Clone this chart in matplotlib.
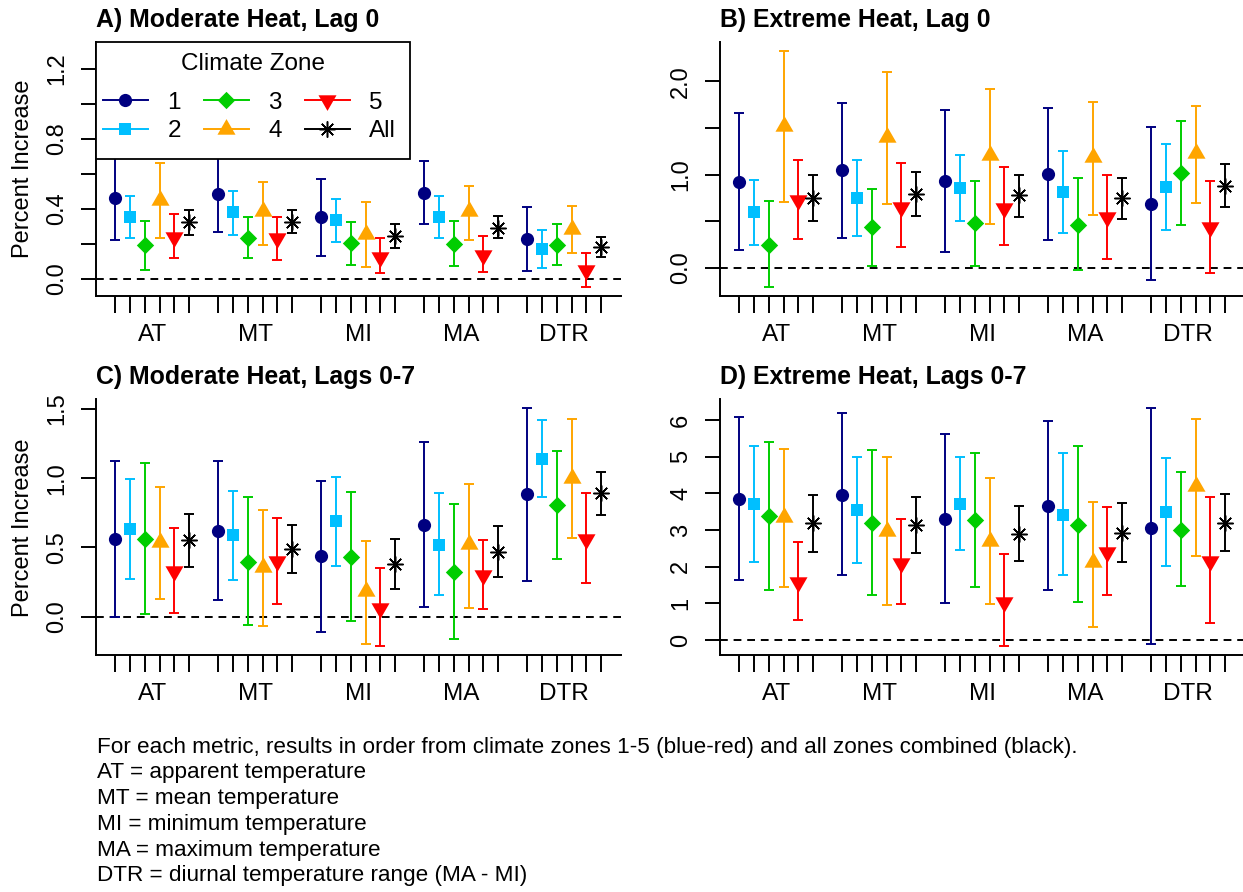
import matplotlib.pyplot as plt
from matplotlib.lines import Line2D
from matplotlib.patches import Rectangle

plt.rcParams['font.family'] = ['Liberation Sans', 'DejaVu Sans']

metrics = ["AT", "MT", "MI", "MA", "DTR"]
zones = ["1", "2", "3", "4", "5", "All"]
zone_colors = ["#000080", "#00BFFF", "#00CD00", "#FFA500", "#FF0000", "#000000"]

# each list: one row per metric (AT, MT, MI, MA, DTR), zones 1-5 then All
a_est = [[0.461, 0.354, 0.192, 0.453, 0.242, 0.324],
         [0.486, 0.381, 0.236, 0.387, 0.232, 0.328],
         [0.352, 0.335, 0.204, 0.257, 0.128, 0.244],
         [0.491, 0.354, 0.200, 0.387, 0.139, 0.293],
         [0.230, 0.170, 0.196, 0.286, 0.050, 0.185]]
a_lo = [[0.225, 0.232, 0.053, 0.232, 0.122, 0.253],
        [0.269, 0.250, 0.118, 0.196, 0.110, 0.261],
        [0.133, 0.210, 0.080, 0.069, 0.034, 0.179],
        [0.312, 0.232, 0.072, 0.221, 0.042, 0.232],
        [0.046, 0.061, 0.078, 0.149, -0.046, 0.124]]
a_hi = [[0.700, 0.476, 0.333, 0.661, 0.370, 0.396],
        [0.700, 0.505, 0.356, 0.554, 0.356, 0.392],
        [0.573, 0.459, 0.326, 0.442, 0.232, 0.312],
        [0.672, 0.476, 0.330, 0.530, 0.248, 0.358],
        [0.413, 0.280, 0.314, 0.415, 0.149, 0.242]]

b_est = [[0.925, 0.596, 0.246, 1.520, 0.730, 0.746],
         [1.054, 0.746, 0.436, 1.404, 0.657, 0.793],
         [0.932, 0.857, 0.479, 1.207, 0.646, 0.779],
         [1.007, 0.811, 0.461, 1.186, 0.543, 0.746],
         [0.689, 0.868, 1.018, 1.229, 0.443, 0.882]]
b_lo = [[0.196, 0.246, -0.207, 0.710, 0.310, 0.504],
        [0.325, 0.339, 0.021, 0.682, 0.221, 0.557],
        [0.171, 0.507, 0.025, 0.468, 0.246, 0.550],
        [0.300, 0.375, -0.025, 0.564, 0.093, 0.521],
        [-0.132, 0.411, 0.457, 0.696, -0.050, 0.650]]
b_hi = [[1.664, 0.946, 0.714, 2.325, 1.160, 0.996],
        [1.771, 1.154, 0.850, 2.096, 1.125, 1.025],
        [1.696, 1.207, 0.929, 1.921, 1.079, 1.000],
        [1.718, 1.250, 0.961, 1.782, 1.000, 0.968],
        [1.511, 1.332, 1.579, 1.736, 0.936, 1.114]]

c_est = [[0.561, 0.631, 0.563, 0.542, 0.330, 0.551],
         [0.619, 0.590, 0.397, 0.361, 0.400, 0.486],
         [0.436, 0.688, 0.433, 0.183, 0.060, 0.383],
         [0.664, 0.520, 0.323, 0.525, 0.300, 0.469],
         [0.883, 1.141, 0.804, 1.004, 0.558, 0.890]]
c_lo = [[0.000, 0.272, 0.022, 0.128, 0.026, 0.361],
        [0.120, 0.267, -0.060, -0.065, 0.094, 0.313],
        [-0.110, 0.366, -0.029, -0.195, -0.214, 0.202],
        [0.070, 0.154, -0.164, 0.065, 0.058, 0.286],
        [0.260, 0.867, 0.416, 0.568, 0.245, 0.736]]
c_hi = [[1.122, 0.994, 1.107, 0.936, 0.640, 0.744],
        [1.126, 0.910, 0.866, 0.768, 0.712, 0.659],
        [0.980, 1.008, 0.900, 0.544, 0.354, 0.561],
        [1.264, 0.890, 0.813, 0.958, 0.554, 0.657],
        [1.504, 1.420, 1.199, 1.430, 0.890, 1.045]]

d_est = [[3.836, 3.700, 3.373, 3.364, 1.590, 3.190],
         [3.964, 3.536, 3.190, 2.980, 2.110, 3.127],
         [3.300, 3.710, 3.270, 2.710, 1.045, 2.900],
         [3.655, 3.418, 3.145, 2.118, 2.410, 2.927],
         [3.055, 3.490, 3.010, 4.200, 2.155, 3.200]]
d_lo = [[1.627, 2.127, 1.364, 1.455, 0.536, 2.410],
        [1.780, 2.090, 1.218, 0.955, 0.990, 2.370],
        [1.018, 2.460, 1.455, 0.970, -0.170, 2.155],
        [1.355, 1.780, 1.045, 0.364, 1.227, 2.127],
        [-0.110, 2.027, 1.473, 2.300, 0.455, 2.436]]
d_hi = [[6.070, 5.290, 5.400, 5.210, 2.680, 3.964],
        [6.190, 5.000, 5.170, 5.000, 3.310, 3.910],
        [5.610, 4.980, 5.110, 4.420, 2.345, 3.655],
        [5.960, 5.090, 5.290, 3.764, 3.636, 3.736],
        [6.327, 4.960, 4.590, 6.036, 3.910, 3.980]]

footnote = ["For each metric, results in order from climate zones 1-5 (blue-red) and all zones combined (black).",
            "AT = apparent temperature",
            "MT = mean temperature",
            "MI = minimum temperature",
            "MA = maximum temperature",
            "DTR = diurnal temperature range (MA - MI)"]

tri_up = [(0, 1), (0.866, -0.5), (-0.866, -0.5)]
tri_dn = [(0, -1), (0.866, 0.5), (-0.866, 0.5)]
diamond = [(0, 1), (1, 0), (0, -1), (-1, 0)]
markers = ["o", "s", diamond, tri_up, tri_dn, (8, 2, 0)]
msizes = [9.5, 9, 12.5, 15, 15, 11.5]

FS = 17.5
W, H = 1243, 892
fig = plt.figure(figsize=(W / 100, H / 100), dpi=100)


def panel(left, top, bottom, est, lo, hi, title, ylim, yticks, ylabels, ylab):
    width = 524.5
    ax = fig.add_axes([left / W, 1 - bottom / H, width / W, (bottom - top) / H])
    for k in range(6):
        xs = [1 + 7 * g + k for g in range(5)]
        ys = [est[g][k] for g in range(5)]
        err = [[est[g][k] - lo[g][k] for g in range(5)],
               [hi[g][k] - est[g][k] for g in range(5)]]
        c = zone_colors[k]
        ax.errorbar(xs, ys, yerr=err, fmt="none", ecolor=c, elinewidth=1.4,
                    capsize=3.4, capthick=1.4, zorder=2)
        if k == 5:
            ax.plot(xs, ys, ls="none", marker=markers[k], ms=msizes[k],
                    color=c, mew=1.1, zorder=3)
        else:
            ax.plot(xs, ys, ls="none", marker=markers[k], ms=msizes[k],
                    color=c, mew=0, zorder=3)
    ax.axhline(0, color="black", lw=1.4, ls=(0, (4, 3)), zorder=1)
    ax.set_xlim(-0.32, 35.32)
    ax.set_ylim(*ylim)
    for s in ["top", "right"]:
        ax.spines[s].set_visible(False)
    for s in ["left", "bottom"]:
        ax.spines[s].set_linewidth(1.4)
    ax.set_xticks([1 + 7 * g + k for g in range(5) for k in range(6)])
    ax.set_xticklabels([])
    ax.set_xticks([3.5 + 7 * g for g in range(5)], metrics, minor=True)
    ax.tick_params(axis="x", which="major", length=12, width=1.4)
    ax.tick_params(axis="x", which="minor", length=0, pad=20, labelsize=FS)
    ax.set_yticks(yticks, ylabels)
    ax.tick_params(axis="y", length=11, width=1.4, pad=9, labelsize=17)
    for t in ax.get_yticklabels():
        t.set_rotation(90)
        t.set_va("center")
    ax.set_title(title, loc="left", fontsize=17.9, fontweight="bold", pad=11)
    if ylab:
        fig.text(23 / W, 1 - (top + bottom) / 2 / H, "Percent Increase",
                 rotation=90, ha="center", va="center", fontsize=17)
    return ax


ax_a = panel(96, 42, 296, a_est, a_lo, a_hi, "A) Moderate Heat, Lag 0",
             (-0.097, 1.354), [0, 0.2, 0.4, 0.6, 0.8, 1.0, 1.2],
             ["0.0", "", "0.4", "", "0.8", "", "1.2"], True)
panel(720, 42, 296, b_est, b_lo, b_hi, "B) Extreme Heat, Lag 0",
      (-0.30, 2.421), [0, 0.5, 1.0, 1.5, 2.0], ["0.0", "", "1.0", "", "2.0"], False)
panel(96, 399.3, 655.3, c_est, c_lo, c_hi, "C) Moderate Heat, Lags 0-7",
      (-0.279, 1.57), [0, 0.5, 1.0, 1.5], ["0.0", "0.5", "1.0", "1.5"], True)
panel(720, 399.3, 655.3, d_est, d_lo, d_hi, "D) Extreme Heat, Lags 0-7",
      (-0.418, 6.564), [0, 1, 2, 3, 4, 5, 6], ["0", "1", "2", "3", "4", "5", "6"], False)

# legend box in panel A
ax_a.add_patch(Rectangle((0, 0.539), 0.5987, 0.461, transform=ax_a.transAxes,
                         facecolor="white", edgecolor="black", lw=1.3,
                         zorder=4, clip_on=False))
ax_a.text(0.299, 0.914, "Climate Zone", transform=ax_a.transAxes, ha="center",
          va="center", fontsize=FS, zorder=6)
handles = []
for k in range(6):
    if k == 5:
        h = Line2D([], [], color=zone_colors[k], lw=1.4, marker=markers[k],
                   ms=msizes[k], mew=1.1)
    else:
        h = Line2D([], [], color=zone_colors[k], lw=1.4, marker=markers[k],
                   ms=msizes[k], mew=0)
    handles.append(h)
leg = ax_a.legend(handles, zones, ncol=3, frameon=False, loc="upper left",
                  bbox_to_anchor=(0.0133, 0.805), borderpad=0, borderaxespad=0,
                  handlelength=1.85, handletextpad=0.8, columnspacing=0.95,
                  labelspacing=0.28, fontsize=FS, numpoints=1)
leg.set_zorder(6)

for i, line in enumerate(footnote):
    fig.text(97 / W, 1 - (747 + 25.8 * i) / H, line, ha="left", va="center",
             fontsize=16.2)

fig.savefig("out.png", dpi=100)
